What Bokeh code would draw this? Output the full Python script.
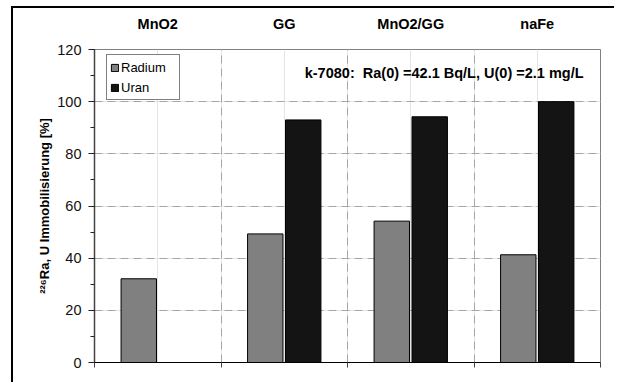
from bokeh.plotting import figure
from bokeh.models import (Range1d, LinearAxis, FixedTicker, SingleIntervalTicker,
                          Label, Legend, LegendItem, ColumnDataSource, Grid)
from bokeh.transform import dodge
from bokeh.embed import file_html
from bokeh.resources import INLINE

categories = ["MnO2", "GG", "MnO2/GG", "naFe"]
radium = [32.1, 49.3, 54.2, 41.3]
uran = [0.0, 93.0, 94.2, 100.0]
y_ticks = [0, 20, 40, 60, 80, 100, 120]
annotation = "k-7080:\u00a0 Ra(0) =42.1 Bq/L, U(0) =2.1 mg/L"
y_label = "²²⁶Ra, U Immobilisierung [%]"

FONT = "Liberation Sans"
centers = [i + 0.5 for i in range(len(categories))]
src = ColumnDataSource(dict(x=centers, radium=radium, uran=uran, cat=categories))

p = figure(width=603, height=376, output_backend="svg", toolbar_location=None,
           x_range=Range1d(0, len(categories)), y_range=Range1d(0, 120),
           min_border_left=81, min_border_top=41, min_border_right=16, min_border_bottom=22,
           x_axis_location=None, y_axis_location=None)
p.styles = {"border-left": "2px solid black", "border-top": "2px solid black",
            "margin-left": "11px", "margin-top": "6px"}
p.outline_line_color = "#808080"
p.outline_line_width = 1
p.background_fill_color = "white"
p.border_fill_color = "white"

# y axis
yaxis = LinearAxis(ticker=SingleIntervalTicker(interval=20, num_minor_ticks=2),
                   axis_label=y_label)
yaxis.axis_line_color = "#444444"
yaxis.axis_line_width = 1.5
yaxis.major_tick_out = 6
yaxis.major_tick_in = 0
yaxis.minor_tick_out = 4
yaxis.minor_tick_in = 0
yaxis.major_tick_line_color = "#222222"
yaxis.minor_tick_line_color = "#222222"
yaxis.major_label_text_font = FONT
yaxis.major_label_text_font_size = "14.5px"
yaxis.major_label_text_color = "#111111"
yaxis.major_label_standoff = 7
yaxis.axis_label_text_font = FONT
yaxis.axis_label_text_font_size = "13px"
yaxis.axis_label_text_font_style = "bold"
yaxis.axis_label_text_color = "black"
yaxis.axis_label_standoff = 2
p.add_layout(yaxis, "left")

# bottom axis: ticks at category boundaries, no labels
xaxis = LinearAxis(ticker=FixedTicker(ticks=list(range(len(categories) + 1))))
xaxis.axis_line_color = "black"
xaxis.major_tick_out = 5
xaxis.major_tick_in = 0
xaxis.minor_tick_out = 0
xaxis.major_tick_line_color = "#444444"
xaxis.major_label_text_color = None
xaxis.major_label_text_font_size = "2px"
xaxis.major_label_standoff = 0
p.add_layout(xaxis, "below")

# top axis: category names
top = LinearAxis(ticker=FixedTicker(ticks=centers),
                 major_label_overrides={c: n for c, n in zip(centers, categories)})
top.axis_line_color = None
top.major_tick_line_color = None
top.minor_tick_line_color = None
top.major_label_text_font = FONT
top.major_label_text_font_size = "14.5px"
top.major_label_text_font_style = "bold"
top.major_label_text_color = "black"
top.major_label_standoff = 12
p.add_layout(top, "above")

# grids
ygrid = Grid(dimension=1, ticker=FixedTicker(ticks=y_ticks[1:-1]))
ygrid.grid_line_color = "#a6a6a6"
ygrid.grid_line_dash = "8 5"
ygrid.grid_line_width = 1
xgrid = Grid(dimension=0, ticker=FixedTicker(ticks=list(range(1, len(categories)))))
xgrid.grid_line_color = "#a6a6a6"
xgrid.grid_line_dash = "8 5"
xgrid.grid_line_width = 1
p.add_layout(ygrid)
p.add_layout(xgrid)

r1 = p.vbar(x=dodge("x", -0.15), top="radium", width=0.28, source=src,
            fill_color="#808080", line_color="black", line_width=1)
r2 = p.vbar(x=dodge("x", 0.15), top="uran", width=0.28, source=src,
            fill_color="#141414", line_color="black", line_width=1)

legend = Legend(items=[LegendItem(label="Radium", renderers=[r1]),
                       LegendItem(label="Uran", renderers=[r2])],
                location=(12, 262))
legend.border_line_color = "black"
legend.border_line_width = 1
legend.background_fill_color = "white"
legend.background_fill_alpha = 1
legend.label_text_font = FONT
legend.label_text_font_size = "13px"
legend.label_text_color = "black"
legend.glyph_width = 9
legend.glyph_height = 9
legend.label_standoff = 2
legend.label_height = 18
legend.label_width = 55
legend.spacing = 2
legend.padding = 3
legend.margin = 0
p.add_layout(legend)

lab = Label(x=3.866, y=110.8, text=annotation, text_align="right", text_baseline="middle",
            text_font=FONT, text_font_size="14.5px", text_font_style="bold", text_color="black")
p.add_layout(lab)

open("out.html", "w").write(file_html(p, INLINE))
